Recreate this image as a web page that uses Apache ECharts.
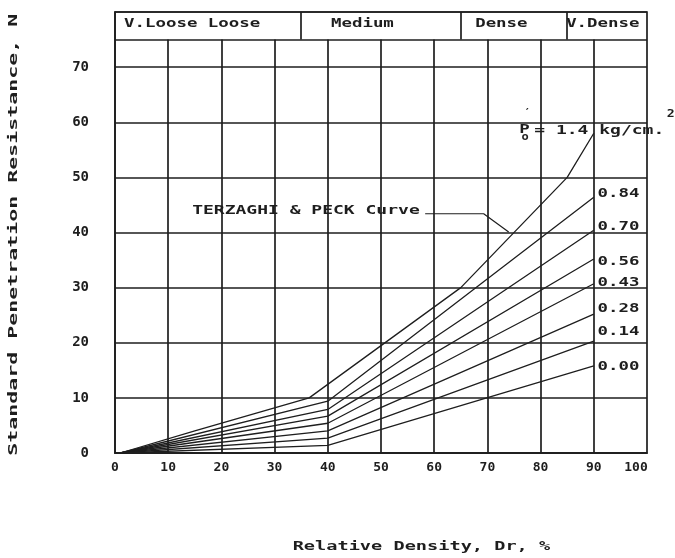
<!DOCTYPE html>
<html><head><meta charset="utf-8">
<script src="https://cdn.jsdelivr.net/npm/echarts/dist/echarts.min.js"></script>
<style>html,body{margin:0;padding:0;background:#fff}#c{width:675px;height:558px}</style>
</head><body><div id="c"></div>
<script>
// ---------------- data ----------------
const xTicks = [0, 10, 20, 30, 40, 50, 60, 70, 80, 90, 100];
const yTicks = [0, 10, 20, 30, 40, 50, 60, 70];
const gridX = [10, 20, 30, 40, 50, 60, 70, 80, 90];
const classNames = ['V.Loose Loose', 'Medium', 'Dense', 'V.Dense'];
const classLimits = [35, 65, 85];
const headerBottom = 75;
const headerTop = 80;
// Terzaghi & Peck curve (P'o = 1.4 kg/cm2)
const curveTP = [[1, 0], [15, 4], [36.5, 10], [65, 30], [85, 50], [90, 58]];
const pressureLabels = ['0.84', '0.70', '0.56', '0.43', '0.28', '0.14', '0.00'];
const curve084 = [[1, 0], [40, 9.4], [90, 46.4]];
const curve070 = [[1, 0], [40, 7.9], [90, 40.4]];
const curve056 = [[1, 0], [40, 6.7], [90, 35.2]];
const curve043 = [[1, 0], [40, 5.4], [90, 30.7]];
const curve028 = [[1, 0], [40, 4.0], [90, 25.2]];
const curve014 = [[1, 0], [40, 2.7], [90, 20.3]];
const curve000 = [[1, 0], [40, 1.4], [90, 15.8]];
const leader = [[58.3, 43.4], [69.3, 43.4], [74, 40.1]];
const tpText = 'TERZAGHI & PECK Curve';
const xTitle = 'Relative Density, Dr, %';
const yTitle = 'Standard Penetration Resistance, N';

// ---------------- layout / style ----------------
const INK = '#1e1e1e';
const FONT = '"DejaVu Sans Mono", monospace';
const curves = [curve084, curve070, curve056, curve043, curve028, curve014, curve000];

const chart = echarts.init(document.getElementById('c'), null, {renderer: 'canvas'});

const segs = [];
gridX.forEach(x => segs.push([{coord: [x, 0]}, {coord: [x, headerBottom]}]));
segs.push([{coord: [0, headerBottom]}, {coord: [100, headerBottom]}]);
classLimits.forEach(x => segs.push([{coord: [x, headerBottom]}, {coord: [x, headerTop]}]));

const series = [{
  type: 'line', data: [[0, 0]], symbol: 'none', lineStyle: {opacity: 0}, silent: true, z: 2,
  markLine: {symbol: ['none', 'none'], silent: true, animation: false, label: {show: false},
    lineStyle: {color: INK, width: 1.7, type: 'solid'}, emphasis: {disabled: true}, data: segs}
}];
[curveTP].concat(curves).forEach(c => series.push({
  type: 'line', data: c, symbol: 'none', silent: true, z: 3,
  lineStyle: {color: INK, width: 1.3}
}));
series.push({type: 'line', data: leader, symbol: 'none', silent: true, z: 3, lineStyle: {color: INK, width: 1.2}});

chart.setOption({
  animation: false,
  backgroundColor: '#ffffff',
  grid: {left: 115, right: 28, top: 12, bottom: 105, show: true, borderColor: INK, borderWidth: 1.7, backgroundColor: 'transparent'},
  xAxis: {type: 'value', min: 0, max: 100, interval: 10,
    axisLine: {show: true, lineStyle: {color: INK, width: 1.7}}, axisTick: {show: false}, splitLine: {show: false},
    axisLabel: {margin: 8, color: INK, fontFamily: FONT, fontWeight: 'bold', fontSize: 13,
      formatter: v => xTicks.includes(v) ? (v === 100 ? '{r|100}' : String(v)) : '',
      rich: {r: {padding: [0, 22, 0, 0], color: INK, fontFamily: FONT, fontWeight: 'bold', fontSize: 13}}}},
  yAxis: {type: 'value', min: 0, max: headerTop, interval: 10,
    axisLine: {show: true, lineStyle: {color: INK, width: 1.7}}, axisTick: {show: false},
    splitLine: {show: true, lineStyle: {color: INK, width: 1.7}},
    axisLabel: {margin: 26, color: INK, fontFamily: FONT, fontWeight: 'bold', fontSize: 14, padding: [0, 0, 8, 0],
      formatter: v => yTicks.includes(v) ? String(v) : ''}},
  series: series
});

function P(x, y) { return chart.convertToPixel({gridIndex: 0}, [x, y]); }
function T(str, dx, dy, o) {
  o = o || {};
  const p = P(dx, dy);
  return {type: 'text', x: p[0], y: p[1], scaleX: o.sx || 1.45, rotation: o.rot || 0, z: 10, silent: true,
    style: {text: str, fill: INK, font: 'bold ' + (o.fs || 12) + 'px ' + FONT,
      align: o.align || 'left', verticalAlign: 'middle', textAlign: o.align || 'left', textVerticalAlign: 'middle'}};
}
const els = [];
// header class names
const headerAt = [1.7, 40.6, 67.7, 84.8];
classNames.forEach((n, i) => els.push(T(n, headerAt[i], 77.8)));
// pressure labels
const labelY = [47.0, 41.0, 34.6, 30.8, 26.1, 22.0, 15.7];
pressureLabels.forEach((n, i) => els.push(T(n, 90.7, labelY[i])));
// P'o = 1.4 kg/cm2
els.push(T('P', 76.0, 58.7));
els.push(T('o', 76.4, 57.2, {fs: 10, sx: 1.2}));
els.push(T('′', 76.9, 61.6, {fs: 11, sx: 1}));
els.push(T('= 1.4 kg/cm.', 78.8, 58.4, {sx: 1.5}));
els.push(T('2', 103.7, 61.4, {fs: 11, sx: 1.2}));
// Terzaghi text
els.push(T(tpText, 14.5, 44.0, {sx: 1.5}));
// axis titles
els.push(T(xTitle, 57.6, -17.1, {align: 'center', sx: 1.55}));
els.push(T(yTitle, -19, 39.6, {align: 'center', sx: 1.8, rot: Math.PI / 2}));
chart.setOption({graphic: {elements: els}});
</script></body></html>
